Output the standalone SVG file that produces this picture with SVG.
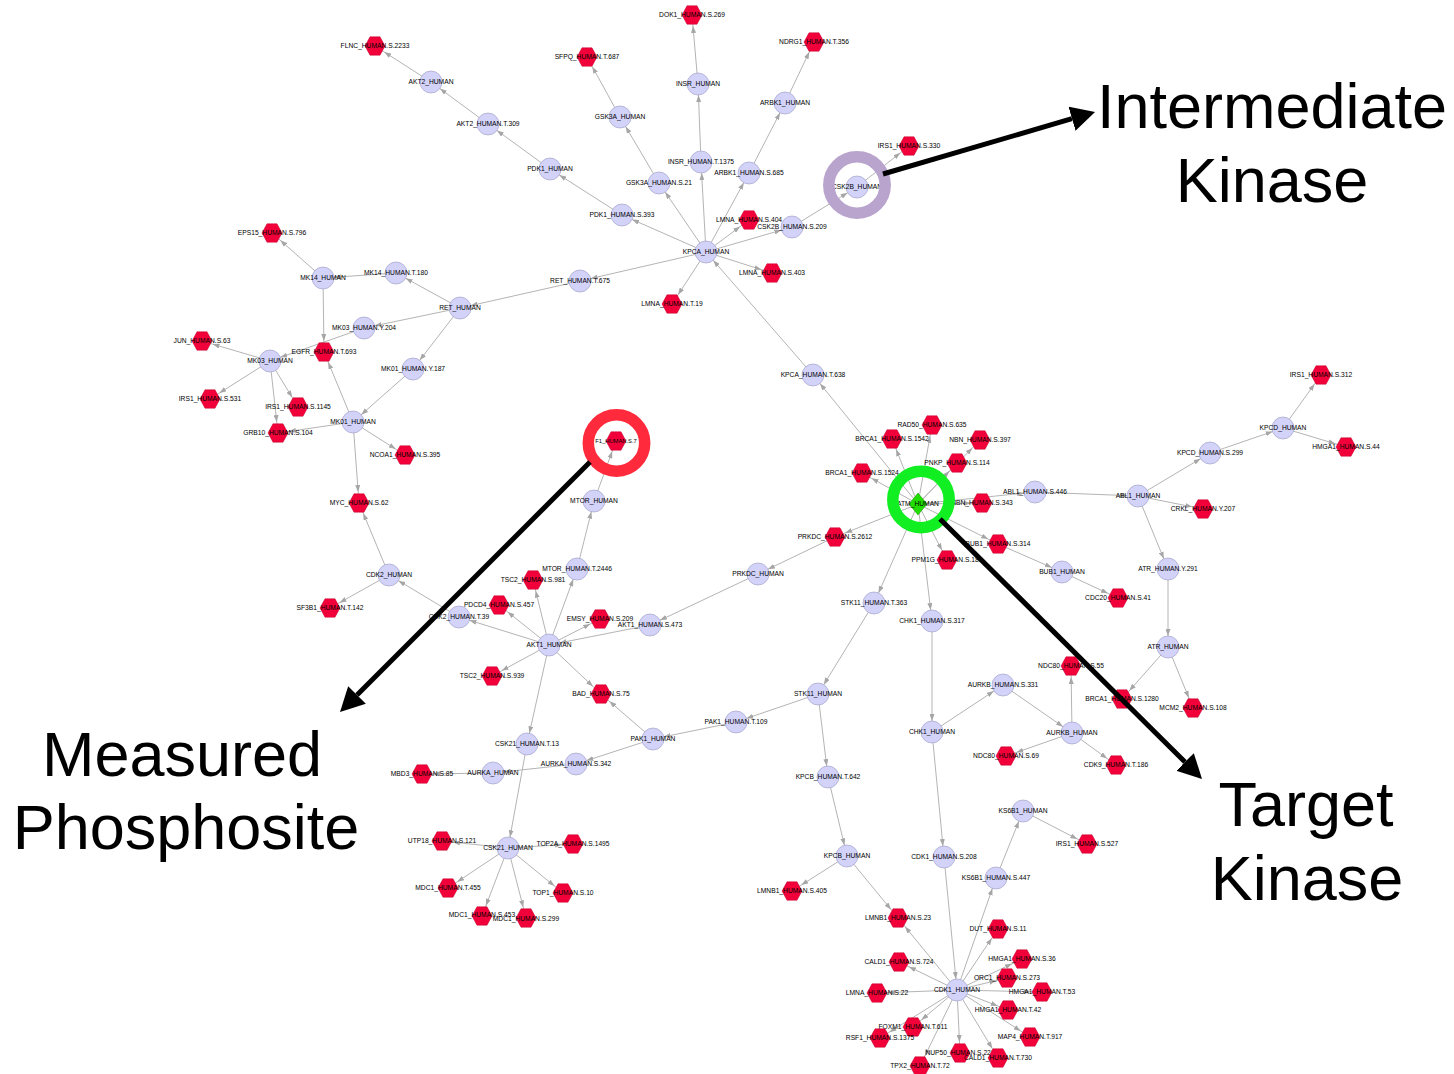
<svg xmlns="http://www.w3.org/2000/svg" xmlns:xlink="http://www.w3.org/1999/xlink" width="1454" height="1074" viewBox="0 0 1454 1074">
<style>
.e line{stroke:#b4b4b4;stroke-width:1;marker-end:url(#a)}
.k circle{fill:#d3d3fa;stroke:#a4a4c8;stroke-width:0.7}
.p use{fill:#f2003a;stroke:#c0002c;stroke-width:0.5}
text{font-family:"Liberation Sans",Arial,sans-serif;font-size:6.7px;fill:#000;text-anchor:middle}
.big{font-size:63px;fill:#000}
.ann line{stroke:#000;stroke-width:5;marker-end:url(#b)}
.ring{fill:none;stroke-width:11.5}
</style>
<defs>
<marker id="a" markerUnits="userSpaceOnUse" markerWidth="7" markerHeight="5" refX="18" refY="2.5" orient="auto"><path d="M0,0L7,2.5L0,5z" fill="#a6a6a6"/></marker>
<marker id="b" markerUnits="userSpaceOnUse" markerWidth="24" markerHeight="25" refX="0" refY="12.5" orient="auto"><path d="M0,0L24,12.5L0,25z" fill="#000"/></marker>
<path id="hx" d="M-10,0L-5,-9.2L5,-9.2L10,0L5,9.2L-5,9.2z"/>
</defs>
<rect width="1454" height="1074" fill="#fff"/>
<g id="edges" class="e">
<line x1="431" y1="82" x2="375" y2="46"/>
<line x1="488" y1="124" x2="431" y2="82"/>
<line x1="550" y1="169" x2="488" y2="124"/>
<line x1="622" y1="215" x2="550" y2="169"/>
<line x1="706" y1="252" x2="622" y2="215"/>
<line x1="620" y1="117" x2="587" y2="57"/>
<line x1="659" y1="183" x2="620" y2="117"/>
<line x1="706" y1="252" x2="659" y2="183"/>
<line x1="698" y1="84" x2="692" y2="15"/>
<line x1="701" y1="162" x2="698" y2="84"/>
<line x1="706" y1="252" x2="701" y2="162"/>
<line x1="785" y1="103" x2="814" y2="42"/>
<line x1="749" y1="173" x2="785" y2="103"/>
<line x1="706" y1="252" x2="749" y2="173"/>
<line x1="706" y1="252" x2="749" y2="220"/>
<line x1="706" y1="252" x2="792" y2="227"/>
<line x1="792" y1="227" x2="857" y2="187"/>
<line x1="857" y1="187" x2="909" y2="146"/>
<line x1="706" y1="252" x2="772" y2="273"/>
<line x1="706" y1="252" x2="672" y2="304"/>
<line x1="706" y1="252" x2="580" y2="281"/>
<line x1="580" y1="281" x2="460" y2="308"/>
<line x1="813" y1="375" x2="706" y2="252"/>
<line x1="918" y1="504" x2="813" y2="375"/>
<line x1="460" y1="308" x2="396" y2="273"/>
<line x1="396" y1="273" x2="323" y2="278"/>
<line x1="323" y1="278" x2="272" y2="233"/>
<line x1="323" y1="278" x2="324" y2="352"/>
<line x1="460" y1="308" x2="364" y2="328"/>
<line x1="364" y1="328" x2="270" y2="361"/>
<line x1="270" y1="361" x2="202" y2="341"/>
<line x1="270" y1="361" x2="210" y2="399"/>
<line x1="270" y1="361" x2="298" y2="407"/>
<line x1="270" y1="361" x2="278" y2="433"/>
<line x1="460" y1="308" x2="413" y2="369"/>
<line x1="413" y1="369" x2="353" y2="422"/>
<line x1="353" y1="422" x2="324" y2="352"/>
<line x1="353" y1="422" x2="278" y2="433"/>
<line x1="353" y1="422" x2="405" y2="455"/>
<line x1="353" y1="422" x2="359" y2="503"/>
<line x1="389" y1="575" x2="359" y2="503"/>
<line x1="389" y1="575" x2="330" y2="608"/>
<line x1="459" y1="617" x2="389" y2="575"/>
<line x1="549" y1="645" x2="459" y2="617"/>
<line x1="549" y1="645" x2="499" y2="605"/>
<line x1="549" y1="645" x2="533" y2="580"/>
<line x1="549" y1="645" x2="577" y2="569"/>
<line x1="577" y1="569" x2="594" y2="501"/>
<line x1="594" y1="501" x2="616" y2="441"/>
<line x1="549" y1="645" x2="600" y2="619"/>
<line x1="650" y1="625" x2="549" y2="645"/>
<line x1="758" y1="574" x2="650" y2="625"/>
<line x1="549" y1="645" x2="492" y2="676"/>
<line x1="549" y1="645" x2="601" y2="694"/>
<line x1="653" y1="739" x2="601" y2="694"/>
<line x1="549" y1="645" x2="527" y2="744"/>
<line x1="527" y1="744" x2="508" y2="848"/>
<line x1="736" y1="722" x2="653" y2="739"/>
<line x1="818" y1="694" x2="736" y2="722"/>
<line x1="653" y1="739" x2="576" y2="764"/>
<line x1="576" y1="764" x2="493" y2="773"/>
<line x1="493" y1="773" x2="422" y2="774"/>
<line x1="508" y1="848" x2="442" y2="841"/>
<line x1="508" y1="848" x2="573" y2="844"/>
<line x1="508" y1="848" x2="448" y2="888"/>
<line x1="508" y1="848" x2="482" y2="916"/>
<line x1="508" y1="848" x2="526" y2="918"/>
<line x1="508" y1="848" x2="563" y2="893"/>
<line x1="918" y1="504" x2="932" y2="425"/>
<line x1="918" y1="504" x2="892" y2="439"/>
<line x1="918" y1="504" x2="980" y2="440"/>
<line x1="918" y1="504" x2="957" y2="463"/>
<line x1="918" y1="504" x2="862" y2="473"/>
<line x1="918" y1="504" x2="982" y2="503"/>
<line x1="918" y1="504" x2="1035" y2="492"/>
<line x1="1035" y1="492" x2="1138" y2="496"/>
<line x1="918" y1="504" x2="835" y2="537"/>
<line x1="835" y1="537" x2="758" y2="574"/>
<line x1="918" y1="504" x2="998" y2="544"/>
<line x1="998" y1="544" x2="1062" y2="572"/>
<line x1="1062" y1="572" x2="1118" y2="598"/>
<line x1="918" y1="504" x2="947" y2="560"/>
<line x1="918" y1="504" x2="874" y2="603"/>
<line x1="874" y1="603" x2="818" y2="694"/>
<line x1="818" y1="694" x2="828" y2="777"/>
<line x1="828" y1="777" x2="847" y2="856"/>
<line x1="847" y1="856" x2="792" y2="891"/>
<line x1="847" y1="856" x2="898" y2="918"/>
<line x1="918" y1="504" x2="932" y2="621"/>
<line x1="932" y1="621" x2="932" y2="732"/>
<line x1="932" y1="732" x2="1003" y2="685"/>
<line x1="1003" y1="685" x2="1072" y2="733"/>
<line x1="1072" y1="733" x2="1071" y2="666"/>
<line x1="1072" y1="733" x2="1006" y2="756"/>
<line x1="1072" y1="733" x2="1116" y2="765"/>
<line x1="932" y1="732" x2="944" y2="857"/>
<line x1="944" y1="857" x2="957" y2="990"/>
<line x1="1138" y1="496" x2="1210" y2="453"/>
<line x1="1210" y1="453" x2="1283" y2="428"/>
<line x1="1283" y1="428" x2="1321" y2="375"/>
<line x1="1283" y1="428" x2="1346" y2="447"/>
<line x1="1138" y1="496" x2="1203" y2="509"/>
<line x1="1138" y1="496" x2="1168" y2="569"/>
<line x1="1168" y1="569" x2="1168" y2="647"/>
<line x1="1168" y1="647" x2="1122" y2="699"/>
<line x1="1168" y1="647" x2="1193" y2="708"/>
<line x1="957" y1="990" x2="898" y2="918"/>
<line x1="957" y1="990" x2="996" y2="878"/>
<line x1="996" y1="878" x2="1023" y2="811"/>
<line x1="1023" y1="811" x2="1087" y2="844"/>
<line x1="957" y1="990" x2="998" y2="929"/>
<line x1="957" y1="990" x2="899" y2="962"/>
<line x1="957" y1="990" x2="1022" y2="959"/>
<line x1="957" y1="990" x2="1007" y2="978"/>
<line x1="957" y1="990" x2="877" y2="993"/>
<line x1="957" y1="990" x2="1042" y2="992"/>
<line x1="957" y1="990" x2="1008" y2="1010"/>
<line x1="957" y1="990" x2="913" y2="1027"/>
<line x1="957" y1="990" x2="880" y2="1038"/>
<line x1="957" y1="990" x2="1030" y2="1037"/>
<line x1="957" y1="990" x2="960" y2="1053"/>
<line x1="957" y1="990" x2="998" y2="1058"/>
<line x1="957" y1="990" x2="920" y2="1066"/>
</g>
<g id="nodes">
<g id="n-AKT2_HUMAN" class="k"><circle cx="431" cy="82" r="11"/><text x="431" y="84.3">AKT2_HUMAN</text></g>
<g id="n-AKT2_HUMAN-T309" class="k"><circle cx="488" cy="124" r="11"/><text x="488" y="126.3">AKT2_HUMAN.T.309</text></g>
<g id="n-PDK1_HUMAN" class="k"><circle cx="550" cy="169" r="11"/><text x="550" y="171.3">PDK1_HUMAN</text></g>
<g id="n-PDK1_HUMAN-S393" class="k"><circle cx="622" cy="215" r="11"/><text x="622" y="217.3">PDK1_HUMAN.S.393</text></g>
<g id="n-GSK3A_HUMAN" class="k"><circle cx="620" cy="117" r="11"/><text x="620" y="119.3">GSK3A_HUMAN</text></g>
<g id="n-GSK3A_HUMAN-S21" class="k"><circle cx="659" cy="183" r="11"/><text x="659" y="185.3">GSK3A_HUMAN.S.21</text></g>
<g id="n-INSR_HUMAN" class="k"><circle cx="698" cy="84" r="11"/><text x="698" y="86.3">INSR_HUMAN</text></g>
<g id="n-INSR_HUMAN-T1375" class="k"><circle cx="701" cy="162" r="11"/><text x="701" y="164.3">INSR_HUMAN.T.1375</text></g>
<g id="n-ARBK1_HUMAN" class="k"><circle cx="785" cy="103" r="11"/><text x="785" y="105.3">ARBK1_HUMAN</text></g>
<g id="n-ARBK1_HUMAN-S685" class="k"><circle cx="749" cy="173" r="11"/><text x="749" y="175.3">ARBK1_HUMAN.S.685</text></g>
<g id="n-KPCA_HUMAN" class="k"><circle cx="706" cy="252" r="11"/><text x="706" y="254.3">KPCA_HUMAN</text></g>
<g id="n-CSK2B_HUMAN-S209" class="k"><circle cx="792" cy="227" r="11"/><text x="792" y="229.3">CSK2B_HUMAN.S.209</text></g>
<g id="n-CSK2B_HUMAN" class="k"><circle cx="857" cy="187" r="11"/><text x="857" y="189.3">CSK2B_HUMAN</text></g>
<g id="n-RET_HUMAN-T675" class="k"><circle cx="580" cy="281" r="11"/><text x="580" y="283.3">RET_HUMAN.T.675</text></g>
<g id="n-RET_HUMAN" class="k"><circle cx="460" cy="308" r="11"/><text x="460" y="310.3">RET_HUMAN</text></g>
<g id="n-MK14_HUMAN-T180" class="k"><circle cx="396" cy="273" r="11"/><text x="396" y="275.3">MK14_HUMAN.T.180</text></g>
<g id="n-MK14_HUMAN" class="k"><circle cx="323" cy="278" r="11"/><text x="323" y="280.3">MK14_HUMAN</text></g>
<g id="n-MK03_HUMAN-Y204" class="k"><circle cx="364" cy="328" r="11"/><text x="364" y="330.3">MK03_HUMAN.Y.204</text></g>
<g id="n-MK03_HUMAN" class="k"><circle cx="270" cy="361" r="11"/><text x="270" y="363.3">MK03_HUMAN</text></g>
<g id="n-MK01_HUMAN-Y187" class="k"><circle cx="413" cy="369" r="11"/><text x="413" y="371.3">MK01_HUMAN.Y.187</text></g>
<g id="n-MK01_HUMAN" class="k"><circle cx="353" cy="422" r="11"/><text x="353" y="424.3">MK01_HUMAN</text></g>
<g id="n-KPCA_HUMAN-T638" class="k"><circle cx="813" cy="375" r="11"/><text x="813" y="377.3">KPCA_HUMAN.T.638</text></g>
<g id="n-CDK2_HUMAN" class="k"><circle cx="389" cy="575" r="11"/><text x="389" y="577.3">CDK2_HUMAN</text></g>
<g id="n-CDK2_HUMAN-T39" class="k"><circle cx="459" cy="617" r="11"/><text x="459" y="619.3">CDK2_HUMAN.T.39</text></g>
<g id="n-MTOR_HUMAN" class="k"><circle cx="594" cy="501" r="11"/><text x="594" y="503.3">MTOR_HUMAN</text></g>
<g id="n-MTOR_HUMAN-T2446" class="k"><circle cx="577" cy="569" r="11"/><text x="577" y="571.3">MTOR_HUMAN.T.2446</text></g>
<g id="n-AKT1_HUMAN" class="k"><circle cx="549" cy="645" r="11"/><text x="549" y="647.3">AKT1_HUMAN</text></g>
<g id="n-AKT1_HUMAN-S473" class="k"><circle cx="650" cy="625" r="11"/><text x="650" y="627.3">AKT1_HUMAN.S.473</text></g>
<g id="n-PRKDC_HUMAN" class="k"><circle cx="758" cy="574" r="11"/><text x="758" y="576.3">PRKDC_HUMAN</text></g>
<g id="n-PAK1_HUMAN" class="k"><circle cx="653" cy="739" r="11"/><text x="653" y="741.3">PAK1_HUMAN</text></g>
<g id="n-PAK1_HUMAN-T109" class="k"><circle cx="736" cy="722" r="11"/><text x="736" y="724.3">PAK1_HUMAN.T.109</text></g>
<g id="n-CSK21_HUMAN-T13" class="k"><circle cx="527" cy="744" r="11"/><text x="527" y="746.3">CSK21_HUMAN.T.13</text></g>
<g id="n-CSK21_HUMAN" class="k"><circle cx="508" cy="848" r="11"/><text x="508" y="850.3">CSK21_HUMAN</text></g>
<g id="n-AURKA_HUMAN-S342" class="k"><circle cx="576" cy="764" r="11"/><text x="576" y="766.3">AURKA_HUMAN.S.342</text></g>
<g id="n-AURKA_HUMAN" class="k"><circle cx="493" cy="773" r="11"/><text x="493" y="775.3">AURKA_HUMAN</text></g>
<g id="n-STK11_HUMAN-T363" class="k"><circle cx="874" cy="603" r="11"/><text x="874" y="605.3">STK11_HUMAN.T.363</text></g>
<g id="n-STK11_HUMAN" class="k"><circle cx="818" cy="694" r="11"/><text x="818" y="696.3">STK11_HUMAN</text></g>
<g id="n-KPCB_HUMAN-T642" class="k"><circle cx="828" cy="777" r="11"/><text x="828" y="779.3">KPCB_HUMAN.T.642</text></g>
<g id="n-KPCB_HUMAN" class="k"><circle cx="847" cy="856" r="11"/><text x="847" y="858.3">KPCB_HUMAN</text></g>
<g id="n-CHK1_HUMAN-S317" class="k"><circle cx="932" cy="621" r="11"/><text x="932" y="623.3">CHK1_HUMAN.S.317</text></g>
<g id="n-CHK1_HUMAN" class="k"><circle cx="932" cy="732" r="11"/><text x="932" y="734.3">CHK1_HUMAN</text></g>
<g id="n-AURKB_HUMAN-S331" class="k"><circle cx="1003" cy="685" r="11"/><text x="1003" y="687.3">AURKB_HUMAN.S.331</text></g>
<g id="n-AURKB_HUMAN" class="k"><circle cx="1072" cy="733" r="11"/><text x="1072" y="735.3">AURKB_HUMAN</text></g>
<g id="n-CDK1_HUMAN-S208" class="k"><circle cx="944" cy="857" r="11"/><text x="944" y="859.3">CDK1_HUMAN.S.208</text></g>
<g id="n-KS6B1_HUMAN-S447" class="k"><circle cx="996" cy="878" r="11"/><text x="996" y="880.3">KS6B1_HUMAN.S.447</text></g>
<g id="n-KS6B1_HUMAN" class="k"><circle cx="1023" cy="811" r="11"/><text x="1023" y="813.3">KS6B1_HUMAN</text></g>
<g id="n-ABL1_HUMAN-S446" class="k"><circle cx="1035" cy="492" r="11"/><text x="1035" y="494.3">ABL1_HUMAN.S.446</text></g>
<g id="n-ABL1_HUMAN" class="k"><circle cx="1138" cy="496" r="11"/><text x="1138" y="498.3">ABL1_HUMAN</text></g>
<g id="n-KPCD_HUMAN-S299" class="k"><circle cx="1210" cy="453" r="11"/><text x="1210" y="455.3">KPCD_HUMAN.S.299</text></g>
<g id="n-KPCD_HUMAN" class="k"><circle cx="1283" cy="428" r="11"/><text x="1283" y="430.3">KPCD_HUMAN</text></g>
<g id="n-ATR_HUMAN-Y291" class="k"><circle cx="1168" cy="569" r="11"/><text x="1168" y="571.3">ATR_HUMAN.Y.291</text></g>
<g id="n-ATR_HUMAN" class="k"><circle cx="1168" cy="647" r="11"/><text x="1168" y="649.3">ATR_HUMAN</text></g>
<g id="n-BUB1_HUMAN" class="k"><circle cx="1062" cy="572" r="11"/><text x="1062" y="574.3">BUB1_HUMAN</text></g>
<g id="n-CDK1_HUMAN" class="k"><circle cx="957" cy="990" r="11"/><text x="957" y="992.3">CDK1_HUMAN</text></g>

<g id="p-FLNC" class="p"><use href="#hx" x="375" y="46"/><text x="375" y="48.3">FLNC_HUMAN.S.2233</text></g>
<g id="p-SFPQ" class="p"><use href="#hx" x="587" y="57"/><text x="587" y="59.3">SFPQ_HUMAN.T.687</text></g>
<g id="p-DOK1" class="p"><use href="#hx" x="692" y="15"/><text x="692" y="17.3">DOK1_HUMAN.S.269</text></g>
<g id="p-NDRG1" class="p"><use href="#hx" x="814" y="42"/><text x="814" y="44.3">NDRG1_HUMAN.T.356</text></g>
<g id="p-IRS1-S330" class="p"><use href="#hx" x="909" y="146"/><text x="909" y="148.3">IRS1_HUMAN.S.330</text></g>
<g id="p-LMNA-S404" class="p"><use href="#hx" x="749" y="220"/><text x="749" y="222.3">LMNA_HUMAN.S.404</text></g>
<g id="p-LMNA-S403" class="p"><use href="#hx" x="772" y="273"/><text x="772" y="275.3">LMNA_HUMAN.S.403</text></g>
<g id="p-LMNA-T19" class="p"><use href="#hx" x="672" y="304"/><text x="672" y="306.3">LMNA_HUMAN.T.19</text></g>
<g id="p-EPS15" class="p"><use href="#hx" x="272" y="233"/><text x="272" y="235.3">EPS15_HUMAN.S.796</text></g>
<g id="p-EGFR" class="p"><use href="#hx" x="324" y="352"/><text x="324" y="354.3">EGFR_HUMAN.T.693</text></g>
<g id="p-JUN" class="p"><use href="#hx" x="202" y="341"/><text x="202" y="343.3">JUN_HUMAN.S.63</text></g>
<g id="p-IRS1-S531" class="p"><use href="#hx" x="210" y="399"/><text x="210" y="401.3">IRS1_HUMAN.S.531</text></g>
<g id="p-IRS1-S1145" class="p"><use href="#hx" x="298" y="407"/><text x="298" y="409.3">IRS1_HUMAN.S.1145</text></g>
<g id="p-GRB10" class="p"><use href="#hx" x="278" y="433"/><text x="278" y="435.3">GRB10_HUMAN.S.104</text></g>
<g id="p-NCOA1" class="p"><use href="#hx" x="405" y="455"/><text x="405" y="457.3">NCOA1_HUMAN.S.395</text></g>
<g id="p-MYC" class="p"><use href="#hx" x="359" y="503"/><text x="359" y="505.3">MYC_HUMAN.S.62</text></g>
<g id="p-SF3B1" class="p"><use href="#hx" x="330" y="608"/><text x="330" y="610.3">SF3B1_HUMAN.T.142</text></g>
<g id="p-F1" class="p"><use href="#hx" x="616" y="441"/><text x="616" y="443.2" style="font-size:5.8px">F1_HUMAN.S.7</text></g>
<g id="p-TSC2-S981" class="p"><use href="#hx" x="533" y="580"/><text x="533" y="582.3">TSC2_HUMAN.S.981</text></g>
<g id="p-PDCD4" class="p"><use href="#hx" x="499" y="605"/><text x="499" y="607.3">PDCD4_HUMAN.S.457</text></g>
<g id="p-EMSY" class="p"><use href="#hx" x="600" y="619"/><text x="600" y="621.3">EMSY_HUMAN.S.209</text></g>
<g id="p-TSC2-S939" class="p"><use href="#hx" x="492" y="676"/><text x="492" y="678.3">TSC2_HUMAN.S.939</text></g>
<g id="p-BAD" class="p"><use href="#hx" x="601" y="694"/><text x="601" y="696.3">BAD_HUMAN.S.75</text></g>
<g id="p-MBD3" class="p"><use href="#hx" x="422" y="774"/><text x="422" y="776.3">MBD3_HUMAN.S.85</text></g>
<g id="p-UTP18" class="p"><use href="#hx" x="442" y="841"/><text x="442" y="843.3">UTP18_HUMAN.S.121</text></g>
<g id="p-TOP2A" class="p"><use href="#hx" x="573" y="844"/><text x="573" y="846.3">TOP2A_HUMAN.S.1495</text></g>
<g id="p-MDC1-T455" class="p"><use href="#hx" x="448" y="888"/><text x="448" y="890.3">MDC1_HUMAN.T.455</text></g>
<g id="p-TOP1" class="p"><use href="#hx" x="563" y="893"/><text x="563" y="895.3">TOP1_HUMAN.S.10</text></g>
<g id="p-MDC1-S453" class="p"><use href="#hx" x="482" y="916"/><text x="482" y="917.3">MDC1_HUMAN.S.453</text></g>
<g id="p-MDC1-S299" class="p"><use href="#hx" x="526" y="918"/><text x="526" y="921.3">MDC1_HUMAN.S.299</text></g>
<g id="p-RAD50" class="p"><use href="#hx" x="932" y="425"/><text x="932" y="427.3">RAD50_HUMAN.S.635</text></g>
<g id="p-BRCA1-S1542" class="p"><use href="#hx" x="892" y="439"/><text x="892" y="441.3">BRCA1_HUMAN.S.1542</text></g>
<g id="p-NBN-S397" class="p"><use href="#hx" x="980" y="440"/><text x="980" y="442.3">NBN_HUMAN.S.397</text></g>
<g id="p-PNKP" class="p"><use href="#hx" x="957" y="463"/><text x="957" y="465.3">PNKP_HUMAN.S.114</text></g>
<g id="p-BRCA1-S1524" class="p"><use href="#hx" x="862" y="473"/><text x="862" y="475.3">BRCA1_HUMAN.S.1524</text></g>
<g id="p-NBN-S343" class="p"><use href="#hx" x="982" y="503"/><text x="982" y="505.3">NBN_HUMAN.S.343</text></g>
<g id="p-PRKDC-S2612" class="p"><use href="#hx" x="835" y="537"/><text x="835" y="539.3">PRKDC_HUMAN.S.2612</text></g>
<g id="p-BUB1-S314" class="p"><use href="#hx" x="998" y="544"/><text x="998" y="546.3">BUB1_HUMAN.S.314</text></g>
<g id="p-PPM1G" class="p"><use href="#hx" x="947" y="560"/><text x="947" y="562.3">PPM1G_HUMAN.S.183</text></g>
<g id="p-CDC20" class="p"><use href="#hx" x="1118" y="598"/><text x="1118" y="600.3">CDC20_HUMAN.S.41</text></g>
<g id="p-IRS1-S312" class="p"><use href="#hx" x="1321" y="375"/><text x="1321" y="377.3">IRS1_HUMAN.S.312</text></g>
<g id="p-HMGA1-S44" class="p"><use href="#hx" x="1346" y="447"/><text x="1346" y="449.3">HMGA1_HUMAN.S.44</text></g>
<g id="p-CRKL" class="p"><use href="#hx" x="1203" y="509"/><text x="1203" y="511.3">CRKL_HUMAN.Y.207</text></g>
<g id="p-BRCA1-S1280" class="p"><use href="#hx" x="1122" y="699"/><text x="1122" y="701.3">BRCA1_HUMAN.S.1280</text></g>
<g id="p-MCM2" class="p"><use href="#hx" x="1193" y="708"/><text x="1193" y="710.3">MCM2_HUMAN.S.108</text></g>
<g id="p-NDC80-S55" class="p"><use href="#hx" x="1071" y="666"/><text x="1071" y="668.3">NDC80_HUMAN.S.55</text></g>
<g id="p-NDC80-S69" class="p"><use href="#hx" x="1006" y="756"/><text x="1006" y="758.3">NDC80_HUMAN.S.69</text></g>
<g id="p-CDK9" class="p"><use href="#hx" x="1116" y="765"/><text x="1116" y="767.3">CDK9_HUMAN.T.186</text></g>
<g id="p-IRS1-S527" class="p"><use href="#hx" x="1087" y="844"/><text x="1087" y="846.3">IRS1_HUMAN.S.527</text></g>
<g id="p-LMNB1-S405" class="p"><use href="#hx" x="792" y="891"/><text x="792" y="893.3">LMNB1_HUMAN.S.405</text></g>
<g id="p-LMNB1-S23" class="p"><use href="#hx" x="898" y="918"/><text x="898" y="920.3">LMNB1_HUMAN.S.23</text></g>
<g id="p-DUT" class="p"><use href="#hx" x="998" y="929"/><text x="998" y="931.3">DUT_HUMAN.S.11</text></g>
<g id="p-CALD1-S724" class="p"><use href="#hx" x="899" y="962"/><text x="899" y="964.3">CALD1_HUMAN.S.724</text></g>
<g id="p-HMGA1-S36" class="p"><use href="#hx" x="1022" y="959"/><text x="1022" y="961.3">HMGA1_HUMAN.S.36</text></g>
<g id="p-ORC1" class="p"><use href="#hx" x="1007" y="978"/><text x="1007" y="980.3">ORC1_HUMAN.S.273</text></g>
<g id="p-LMNA-S22" class="p"><use href="#hx" x="877" y="993"/><text x="877" y="995.3">LMNA_HUMAN.S.22</text></g>
<g id="p-HMGA1-T53" class="p"><use href="#hx" x="1042" y="992"/><text x="1042" y="994.3">HMGA1_HUMAN.T.53</text></g>
<g id="p-HMGA1-T42" class="p"><use href="#hx" x="1008" y="1010"/><text x="1008" y="1012.3">HMGA1_HUMAN.T.42</text></g>
<g id="p-FOXM1" class="p"><use href="#hx" x="913" y="1027"/><text x="913" y="1029.3">FOXM1_HUMAN.T.611</text></g>
<g id="p-RSF1" class="p"><use href="#hx" x="880" y="1038"/><text x="880" y="1040.3">RSF1_HUMAN.S.1375</text></g>
<g id="p-MAP4" class="p"><use href="#hx" x="1030" y="1037"/><text x="1030" y="1039.3">MAP4_HUMAN.T.917</text></g>
<g id="p-NUP50" class="p"><use href="#hx" x="960" y="1053"/><text x="960" y="1055.3">NUP50_HUMAN.S.221</text></g>
<g id="p-CALD1-T730" class="p"><use href="#hx" x="998" y="1058"/><text x="998" y="1060.3">CALD1_HUMAN.T.730</text></g>
<g id="p-TPX2" class="p"><use href="#hx" x="920" y="1066"/><text x="920" y="1068.3">TPX2_HUMAN.T.72</text></g>

<g id="t-ATM_HUMAN"><polygon points="918,493 927,504 918,515 909,504" fill="#22dd00" stroke="#119900" stroke-width="0.5"/><text x="918" y="506.3">ATM_HUMAN</text></g>
</g>
<g id="annotations">
<circle class="ring" cx="857" cy="185" r="28.2" stroke="#b9a4cd"/>
<circle class="ring" cx="616.5" cy="443" r="28.2" stroke="#ff2a3c"/>
<circle class="ring" cx="921" cy="499.5" r="28.2" stroke="#11ee22"/>
<g class="ann">
<line x1="883" y1="174" x2="1072" y2="118.7"/>
<line x1="590" y1="462" x2="357" y2="695"/>
<line x1="940" y1="519" x2="1185" y2="762"/>
</g>
<text class="big" x="1272" y="128">Intermediate</text>
<text class="big" x="1272" y="202">Kinase</text>
<text class="big" x="182" y="776">Measured</text>
<text class="big" x="186" y="849">Phosphosite</text>
<text class="big" x="1306" y="826">Target</text>
<text class="big" x="1307" y="900">Kinase</text>
</g>
</svg>
